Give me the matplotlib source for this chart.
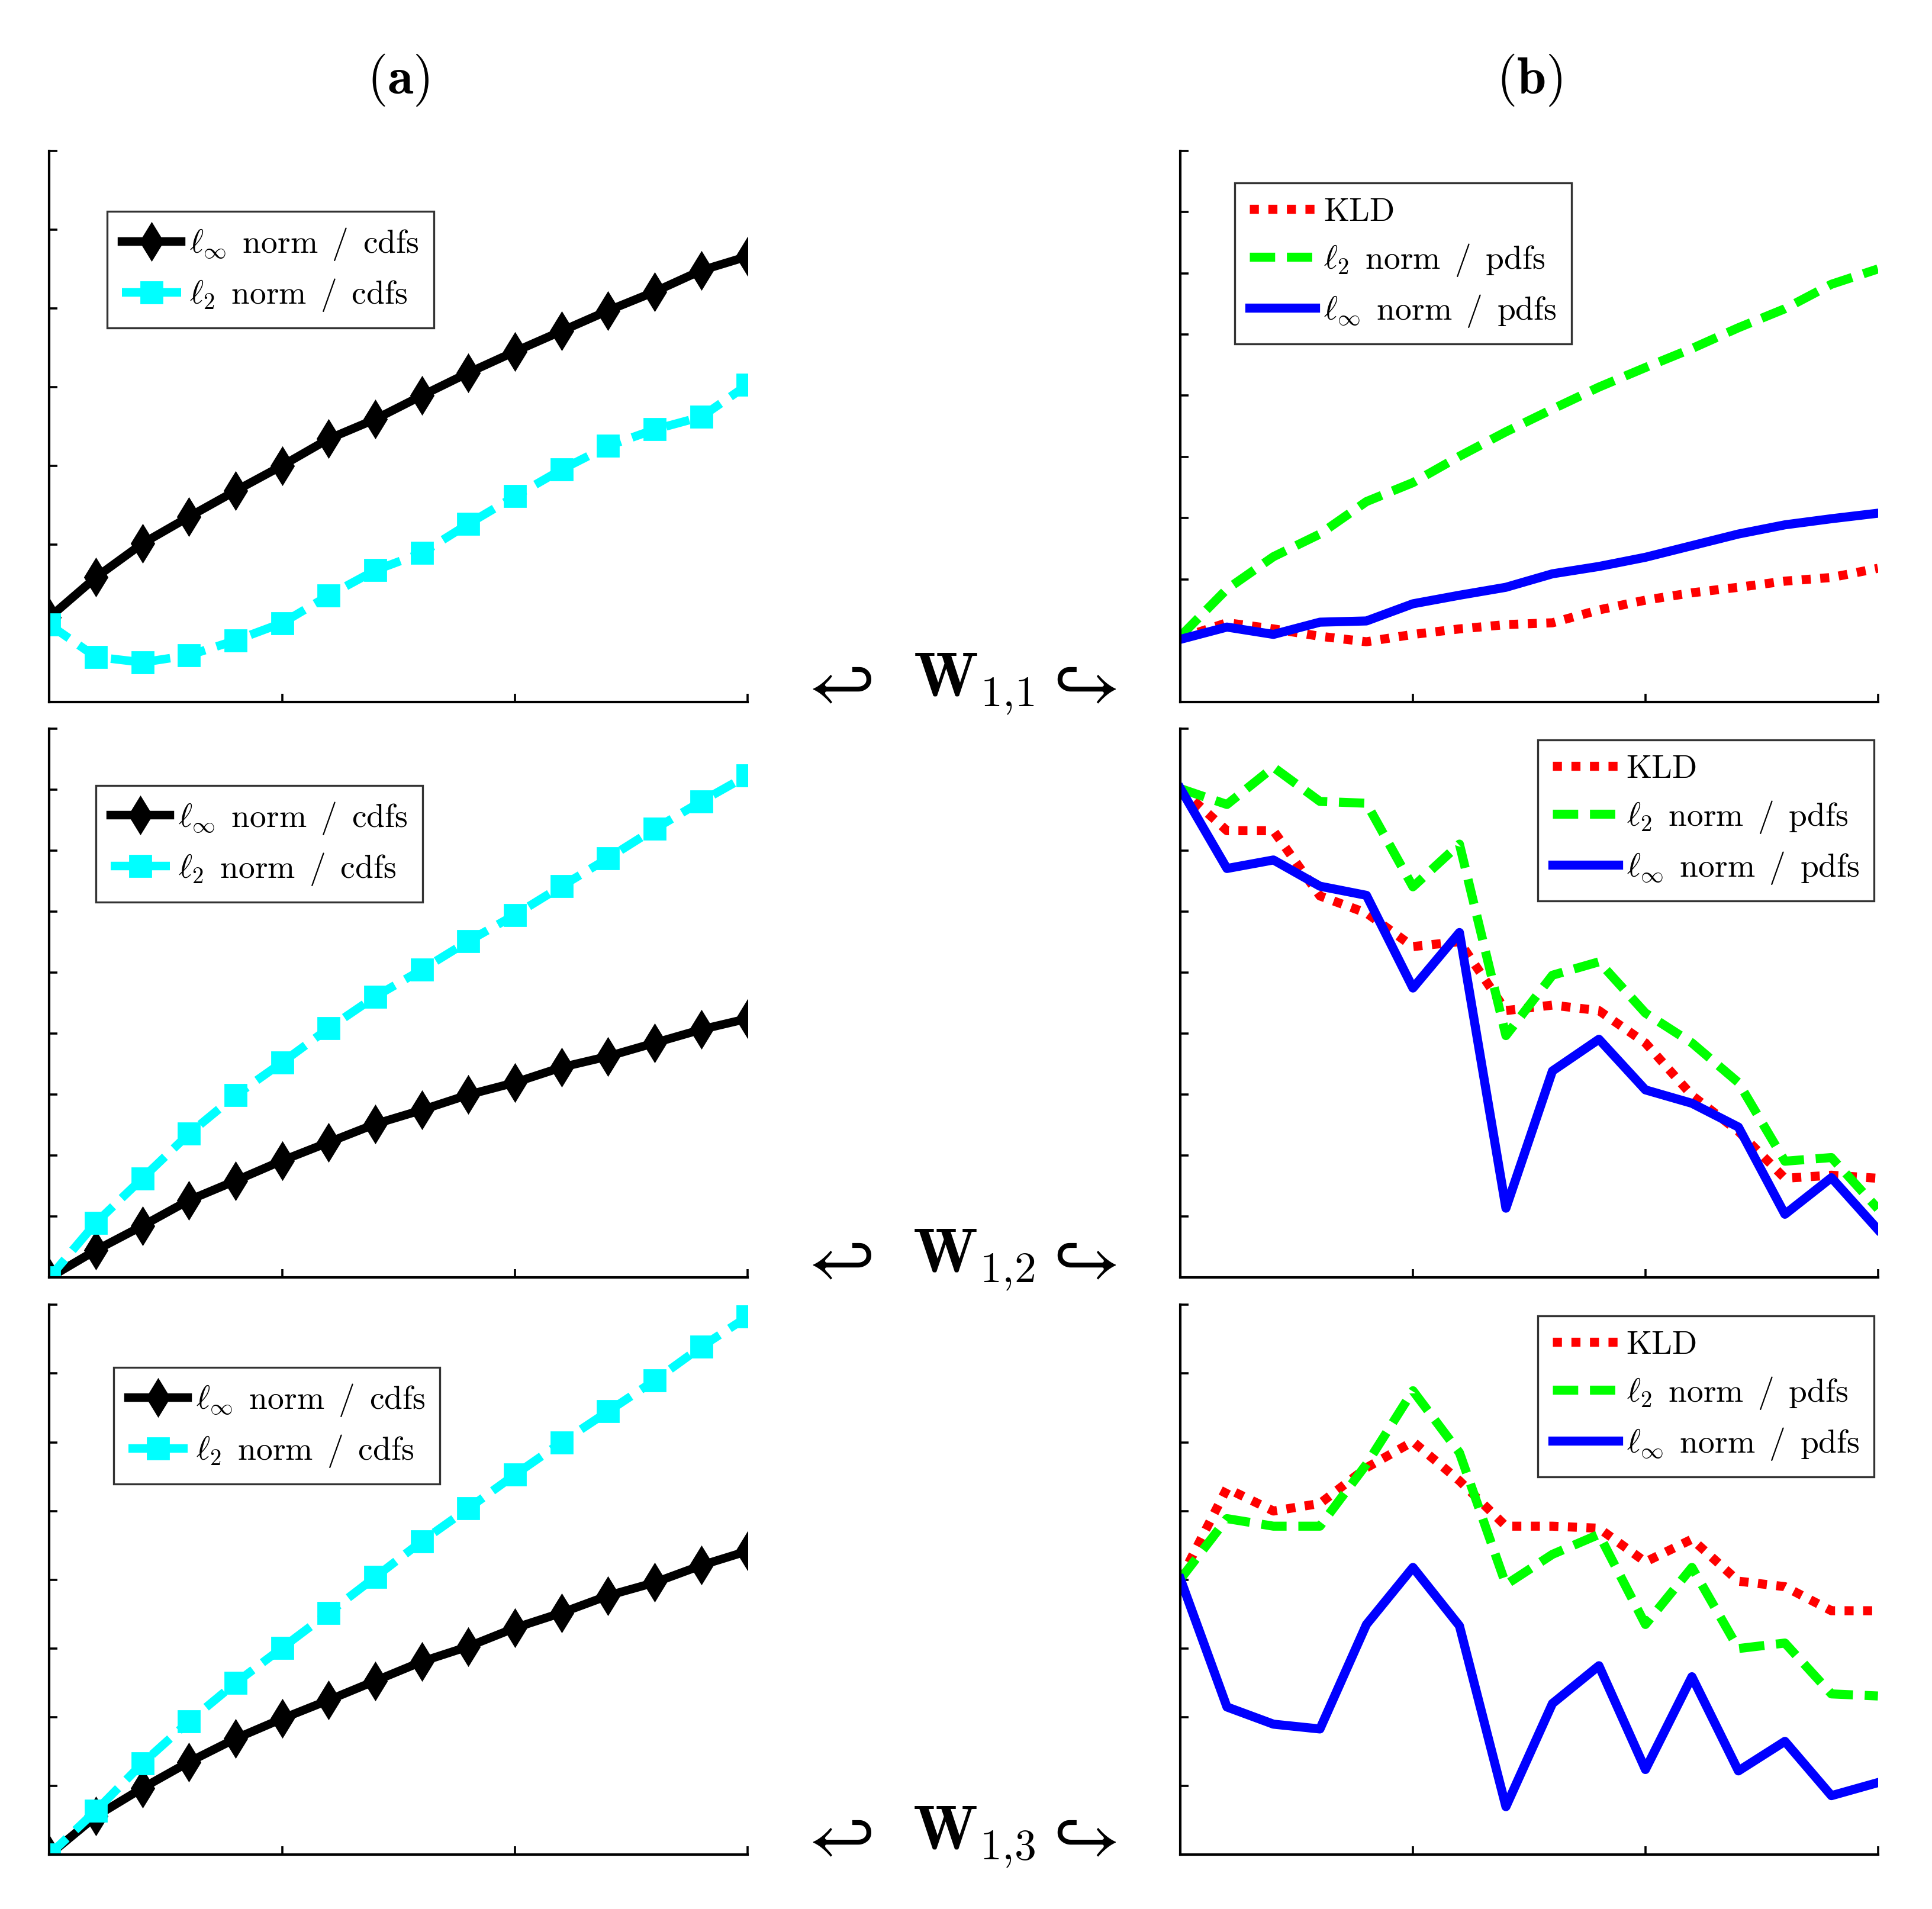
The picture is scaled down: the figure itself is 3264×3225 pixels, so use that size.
import numpy as np
import matplotlib
matplotlib.use('Agg')
import matplotlib.pyplot as plt

plt.rcParams['mathtext.fontset'] = 'cm'
plt.rcParams['font.family'] = 'serif'
plt.rcParams['font.serif'] = ['cmr10', 'DejaVu Serif']
plt.rcParams['axes.formatter.use_mathtext'] = True

# x positions (16 samples)
x = np.arange(16)

# column (a): cdf based distances, one pair per row
a1_inf = [1.07, 1.58, 2.01, 2.35, 2.68, 3.00, 3.34, 3.59, 3.89, 4.18, 4.45, 4.71, 4.97, 5.21, 5.48, 5.66]
a1_l2 = [0.98, 0.57, 0.50, 0.59, 0.78, 1.00, 1.35, 1.67, 1.89, 2.26, 2.61, 2.95, 3.25, 3.46, 3.62, 4.03]
a2_inf = [0.00, 0.45, 0.85, 1.27, 1.59, 1.92, 2.22, 2.52, 2.75, 3.00, 3.20, 3.45, 3.63, 3.85, 4.07, 4.25]
a2_l2 = [0.00, 0.90, 1.63, 2.36, 2.99, 3.53, 4.09, 4.61, 5.05, 5.52, 5.95, 6.42, 6.88, 7.36, 7.81, 8.24]
a3_inf = [0.00, 0.56, 0.97, 1.35, 1.69, 1.98, 2.25, 2.53, 2.81, 3.03, 3.30, 3.52, 3.77, 3.96, 4.21, 4.42]
a3_l2 = [0.00, 0.64, 1.33, 1.94, 2.50, 3.01, 3.52, 4.04, 4.56, 5.04, 5.53, 6.00, 6.45, 6.90, 7.39, 7.83]

# column (b): pdf based distances
b1_kld = [1.04, 1.29, 1.19, 1.07, 0.98, 1.10, 1.19, 1.26, 1.29, 1.50, 1.66, 1.78, 1.87, 1.97, 2.03, 2.18]
b1_l2 = [1.07, 1.84, 2.37, 2.74, 3.27, 3.58, 4.01, 4.41, 4.78, 5.14, 5.46, 5.77, 6.11, 6.42, 6.82, 7.07]
b1_inf = [1.02, 1.22, 1.10, 1.30, 1.32, 1.60, 1.74, 1.87, 2.09, 2.21, 2.36, 2.55, 2.74, 2.89, 2.99, 3.08]
b2_kld = [8.02, 7.33, 7.33, 6.26, 5.98, 5.43, 5.51, 4.38, 4.47, 4.38, 3.85, 2.99, 2.40, 1.63, 1.68, 1.63]
b2_l2 = [8.02, 7.76, 8.37, 7.81, 7.78, 6.41, 7.11, 3.97, 4.96, 5.18, 4.34, 3.85, 3.20, 1.91, 1.97, 1.13]
b2_inf = [8.02, 6.71, 6.85, 6.42, 6.27, 4.75, 5.66, 1.14, 3.39, 3.91, 3.08, 2.86, 2.47, 1.04, 1.64, 0.79]
b3_kld = [4.01, 5.33, 5.00, 5.11, 5.63, 6.01, 5.44, 4.78, 4.78, 4.75, 4.26, 4.59, 3.98, 3.90, 3.55, 3.55]
b3_l2 = [4.01, 4.89, 4.78, 4.78, 5.68, 6.75, 5.85, 3.93, 4.37, 4.66, 3.35, 4.18, 3.00, 3.08, 2.34, 2.31]
b3_inf = [4.01, 2.15, 1.90, 1.83, 3.35, 4.18, 3.33, 0.70, 2.20, 2.75, 1.24, 2.59, 1.22, 1.65, 0.86, 1.05]

# y tick intervals per panel (no tick labels in the original)
a_ymax = [7, 9, 8]
b_ymax = [9, 9, 8]
w_labels = [r'$\mathbf{W}_{1{,}1}$', r'$\mathbf{W}_{1{,}2}$', r'$\mathbf{W}_{1{,}3}$']

lab_inf_cdf = r'$\ell_\infty\ \,\mathrm{norm}\ \,/\ \,\mathrm{cdfs}$'
lab_l2_cdf = r'$\ell_2\ \,\mathrm{norm}\ \,/\ \,\mathrm{cdfs}$'
lab_l2_pdf = r'$\ell_2\ \,\mathrm{norm}\ \,/\ \,\mathrm{pdfs}$'
lab_inf_pdf = r'$\ell_\infty\ \,\mathrm{norm}\ \,/\ \,\mathrm{pdfs}$'

fig = plt.figure(figsize=(16.32, 16.125), dpi=200)

rows = [(0.6324, 0.2886), (0.3307, 0.2875), (0.0284, 0.2881)]
a_leg = [(0.083, 0.89), (0.067, 0.897), (0.092, 0.886)]
b_leg = [(0.078, 0.942), (0.512, 0.98), (0.512, 0.98)]
lab_y = [0.6415, 0.3398, 0.0375]


def style_axes(ax, ymax):
    ax.set_xlim(0, 15)
    ax.set_ylim(0, ymax)
    ax.set_xticks([0, 5, 10, 15])
    ax.set_yticks(np.arange(ymax + 1))
    ax.set_xticklabels([])
    ax.set_yticklabels([])
    ax.spines['top'].set_visible(False)
    ax.spines['right'].set_visible(False)
    for s in ['left', 'bottom']:
        ax.spines[s].set_linewidth(1.5)
    ax.tick_params(direction='in', length=5, width=1.3)


def add_legend(ax, anchor, hlen):
    leg = ax.legend(loc='upper left', bbox_to_anchor=anchor, fontsize=20,
                    frameon=True, fancybox=False, edgecolor='k', borderpad=0.45,
                    handlelength=hlen, handletextpad=0.25, labelspacing=0.45,
                    borderaxespad=0)
    leg.get_frame().set_linewidth(1.2)


a_data = [(a1_inf, a1_l2), (a2_inf, a2_l2), (a3_inf, a3_l2)]
b_data = [(b1_kld, b1_l2, b1_inf), (b2_kld, b2_l2, b2_inf), (b3_kld, b3_l2, b3_inf)]

for i, (bot, h) in enumerate(rows):
    # column (a)
    ax = fig.add_axes([0.0255, bot, 0.3616, h])
    linf, l2 = a_data[i]
    ax.plot(x, linf, color='k', lw=5.2, marker='d', ms=16, mfc='k', mec='k',
            label=lab_inf_cdf)
    ax.plot(x, l2, color='#00ffff', lw=5.2, ls=(0, (2.8, 1.4)), marker='s', ms=13,
            mfc='#00ffff', mec='#00ffff', label=lab_l2_cdf)
    style_axes(ax, a_ymax[i])
    add_legend(ax, a_leg[i], 1.8)

    # column (b)
    ax = fig.add_axes([0.611, bot, 0.361, h])
    kld, l2, linf = b_data[i]
    ax.plot(x, kld, color='#ff0000', lw=5.5, ls=(0, (1, 1.05)), label='KLD')
    ax.plot(x, l2, color='#00ff00', lw=5.5, ls=(0, (2.8, 1.3)), label=lab_l2_pdf)
    ax.plot(x, linf, color='#0000ff', lw=5.5, label=lab_inf_pdf)
    style_axes(ax, b_ymax[i])
    add_legend(ax, b_leg[i], 2.0)

    # middle row label
    fig.text(0.4318, lab_y[i] - 0.002, r'$\hookleftarrow$', ha='center', va='center',
             fontsize=45, math_fontfamily='stix')
    fig.text(0.504, lab_y[i], w_labels[i], ha='center', va='center', fontsize=38)
    fig.text(0.5585, lab_y[i] - 0.002, r'$\hookrightarrow$', ha='center', va='center',
             fontsize=45, math_fontfamily='stix')

fig.text(0.206, 0.958, r'$\mathbf{(a)}$', ha='center', va='center', fontsize=32)
fig.text(0.7915, 0.958, r'$\mathbf{(b)}$', ha='center', va='center', fontsize=32)

fig.savefig('out.png', dpi=200)
